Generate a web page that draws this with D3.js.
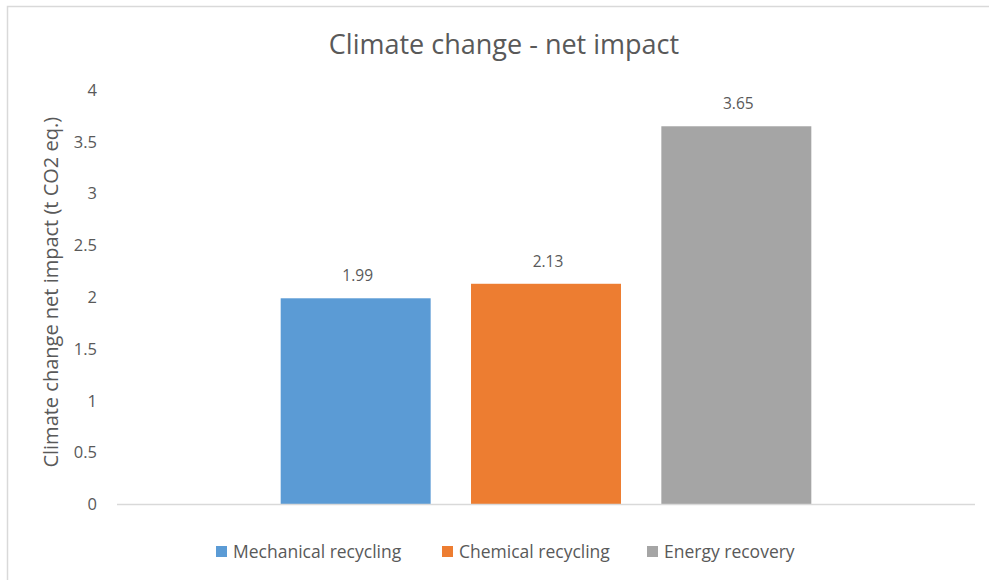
<!DOCTYPE html>
<html>
<head>
<meta charset="utf-8">
<script src="https://cdn.jsdelivr.net/npm/d3@7/dist/d3.min.js"></script>
<style>
  html, body { margin: 0; padding: 0; background: #fff; }
  svg { display: block; }
  text { font-family: "Open Sans", "Noto Sans", sans-serif; fill: #595959; }
</style>
</head>
<body>
<svg id="chart" width="989" height="580"></svg>
<script>
// Net climate-change impact per end-of-life route
const series = ["Mechanical recycling", "Chemical recycling", "Energy recovery"];
const values = [1.99, 2.13, 3.65];
const colors = ["#5B9BD5", "#ED7D31", "#A5A5A5"];
const yTicks = [0, 0.5, 1, 1.5, 2, 2.5, 3, 3.5, 4];

const titleText = "Climate change - net impact";
const yTitleText = "Climate change net impact (t CO2 eq.)";

const svg = d3.select("#chart");
const W = 989, H = 580;

// chart area frame
svg.append("rect")
  .attr("x", 7.5).attr("y", 6.5)
  .attr("width", W + 10).attr("height", H + 10)
  .attr("fill", "#fff")
  .attr("stroke", "#d9d9d9").attr("stroke-width", 1.5);

const plot = { left: 117, right: 975, top: 90, bottom: 504.5 };

const y = d3.scaleLinear().domain([0, 4]).range([plot.bottom, plot.top]);
const x = d3.scaleBand()
  .domain(series)
  .range([plot.left, plot.right])
  .paddingInner(0.212)
  .paddingOuter(0.86);

// title
svg.append("text")
  .attr("x", 504).attr("y", 54)
  .attr("text-anchor", "middle")
  .style("font-size", "27px")
  .text(titleText);

// y axis labels (no line, no ticks)
const yAxis = d3.axisLeft(y).tickValues(yTicks).tickSize(0).tickPadding(0)
  .tickFormat(d3.format("~g"));
const gy = svg.append("g").attr("transform", "translate(97,0)").call(yAxis);
gy.select(".domain").remove();
gy.selectAll("text")
  .attr("fill", "#595959")
  .style("font-family", "'Open Sans', sans-serif")
  .style("font-size", "16.5px");

// y axis title
svg.append("text")
  .attr("transform", `translate(58,${(plot.top + plot.bottom) / 2 - 5}) rotate(-90)`)
  .attr("text-anchor", "middle")
  .style("font-size", "20px")
  .text(yTitleText);

// bars
svg.append("g").selectAll("rect")
  .data(series)
  .join("rect")
  .attr("x", d => x(d))
  .attr("width", x.bandwidth())
  .attr("y", (d, i) => y(values[i]))
  .attr("height", (d, i) => y(0) - y(values[i]))
  .attr("fill", (d, i) => colors[i]);

// value labels
svg.append("g").selectAll("text")
  .data(series)
  .join("text")
  .attr("x", d => x(d) + x.bandwidth() / 2 + 2)
  .attr("y", (d, i) => y(values[i]) - 17)
  .attr("text-anchor", "middle")
  .style("font-size", "15.5px")
  .text((d, i) => values[i].toFixed(2));

// baseline
svg.append("line")
  .attr("x1", plot.left).attr("x2", plot.right)
  .attr("y1", y(0)).attr("y2", y(0))
  .attr("stroke", "#d9d9d9").attr("stroke-width", 1.5);

// legend
const legendX = [216, 442, 647];
const lg = svg.append("g").selectAll("g")
  .data(series)
  .join("g")
  .attr("transform", (d, i) => `translate(${legendX[i]},551.5)`);
lg.append("rect")
  .attr("x", 0).attr("y", -5.5)
  .attr("width", 11).attr("height", 11)
  .attr("fill", (d, i) => colors[i]);
lg.append("text")
  .attr("x", 17).attr("y", 6)
  .style("font-size", "17.5px")
  .text(d => d);
</script>
</body>
</html>
